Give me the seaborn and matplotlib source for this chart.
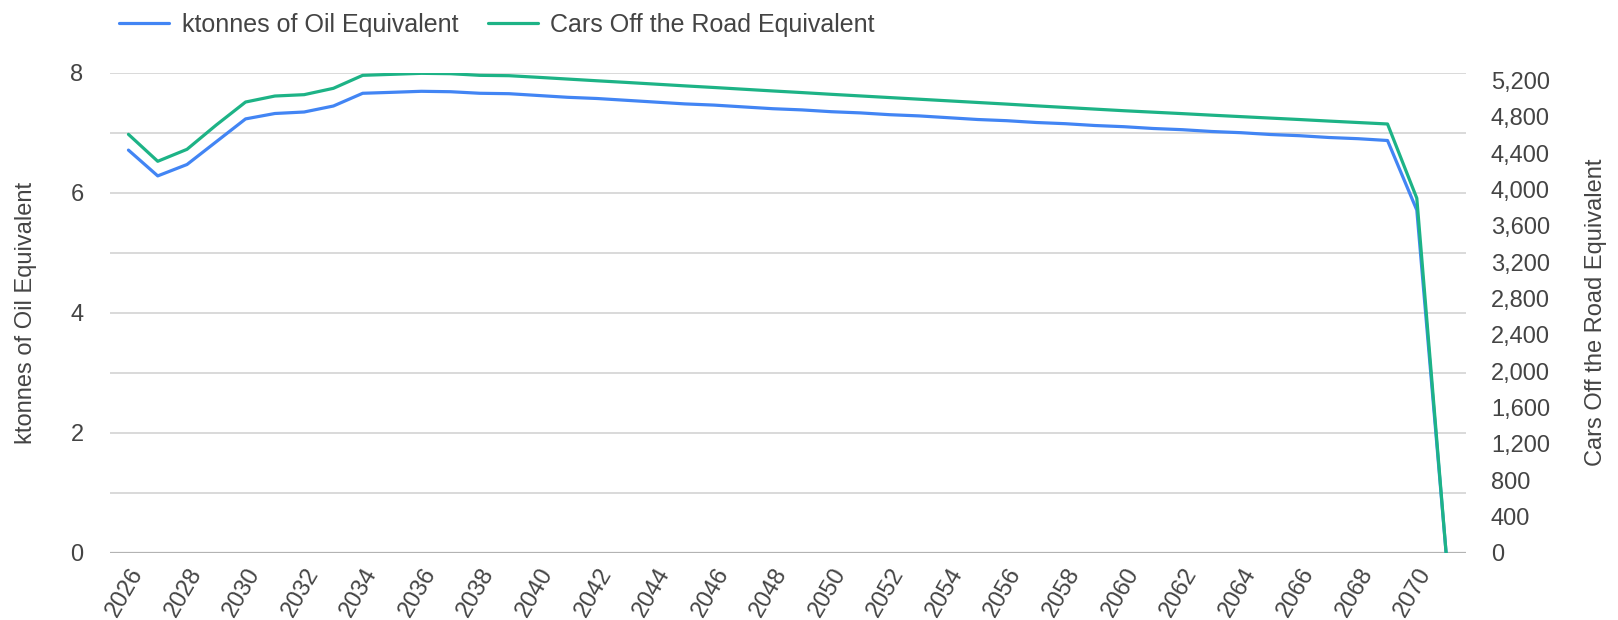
import matplotlib
matplotlib.use("Agg")
import matplotlib.pyplot as plt
import seaborn as sns
import pandas as pd
from matplotlib.ticker import FuncFormatter, MultipleLocator
from matplotlib.lines import Line2D

years = list(range(2026, 2072))
ktoe = [6.71, 6.28, 6.47, 6.85, 7.23, 7.32, 7.345, 7.445, 7.657, 7.673,
        7.69, 7.683, 7.657, 7.65, 7.62, 7.59, 7.57, 7.54, 7.51, 7.48,
        7.46, 7.43, 7.40, 7.38, 7.35, 7.33, 7.30, 7.28, 7.25, 7.22,
        7.20, 7.17, 7.15, 7.12, 7.10, 7.07, 7.05, 7.02, 7.00, 6.97,
        6.95, 6.92, 6.90, 6.87, 5.71, 0.0]
cars = [4609, 4312, 4444, 4712, 4965, 5031, 5046, 5116, 5259, 5270,
        5281, 5277, 5259, 5255, 5237, 5218, 5199, 5181, 5162, 5143,
        5125, 5106, 5087, 5069, 5050, 5032, 5014, 4996, 4978, 4960,
        4942, 4923, 4905, 4887, 4869, 4853, 4837, 4820, 4804, 4788,
        4772, 4755, 4739, 4723, 3905, 0]
left_label = "ktonnes of Oil Equivalent"
right_label = "Cars Off the Road Equivalent"

df = pd.DataFrame({"year": years, "ktoe": ktoe, "cars": cars})

sns.set_theme(style="white")
plt.rcParams['font.family'] = ['Liberation Sans', 'DejaVu Sans']
TXT = "#444444"
BLUE = "#4285F4"
GREEN = "#1DB386"

fig = plt.figure(figsize=(16.18, 6.2), dpi=100)
ax = fig.add_axes([110/1618, 1-552.7/620, (1466-110)/1618, (552.7-72.7)/620])
ax2 = ax.twinx()

sns.lineplot(data=df, x="year", y="ktoe", ax=ax, color=BLUE, linewidth=2.3)
sns.lineplot(data=df, x="year", y="cars", ax=ax2, color=GREEN, linewidth=2.3)

ax.set_xlim(2025.37, 2071.68)
ax.set_ylim(0, 8)
ax2.set_ylim(0, 5288)

ax.yaxis.set_major_locator(MultipleLocator(2))
ax.yaxis.set_minor_locator(MultipleLocator(1))
ax.grid(True, which="both", axis="y", color="#d9d9d9", linewidth=1.4)
ax.grid(False, axis="x")
ax.axhline(0, color="#b3b3b3", linewidth=1.6, zorder=1)
ax2.grid(False)
ax2.yaxis.set_major_locator(MultipleLocator(400))
ax2.yaxis.set_major_formatter(FuncFormatter(lambda v, p: f"{int(v):,}"))

ax.set_xticks(list(range(2026, 2071, 2)))
ax.set_xticklabels([str(y) for y in range(2026, 2071, 2)], rotation=60,
                   ha="right", rotation_mode="anchor")

for a in (ax, ax2):
    for s in a.spines.values():
        s.set_visible(False)
    a.tick_params(axis="both", which="both", length=0, colors=TXT, labelsize=17)
ax.tick_params(axis="y", pad=19)
ax2.tick_params(axis="y", pad=18)
ax.tick_params(axis="x", pad=8)

ax.set_xlabel("")
ax.set_ylabel(left_label, fontsize=17, color=TXT, labelpad=24)
ax2.set_ylabel(right_label, fontsize=17, color=TXT, labelpad=25)

handles = [Line2D([], [], color=BLUE, linewidth=2.3),
           Line2D([], [], color=GREEN, linewidth=2.3)]
fig.legend(handles, [left_label, right_label], loc="center left",
           bbox_to_anchor=(119/1618, 1-25/620), ncol=2, frameon=False,
           borderpad=0, borderaxespad=0,
           fontsize=18, handlelength=2.0, handletextpad=0.5, columnspacing=1.2,
           labelcolor=TXT)

fig.savefig("out.png", dpi=100)
